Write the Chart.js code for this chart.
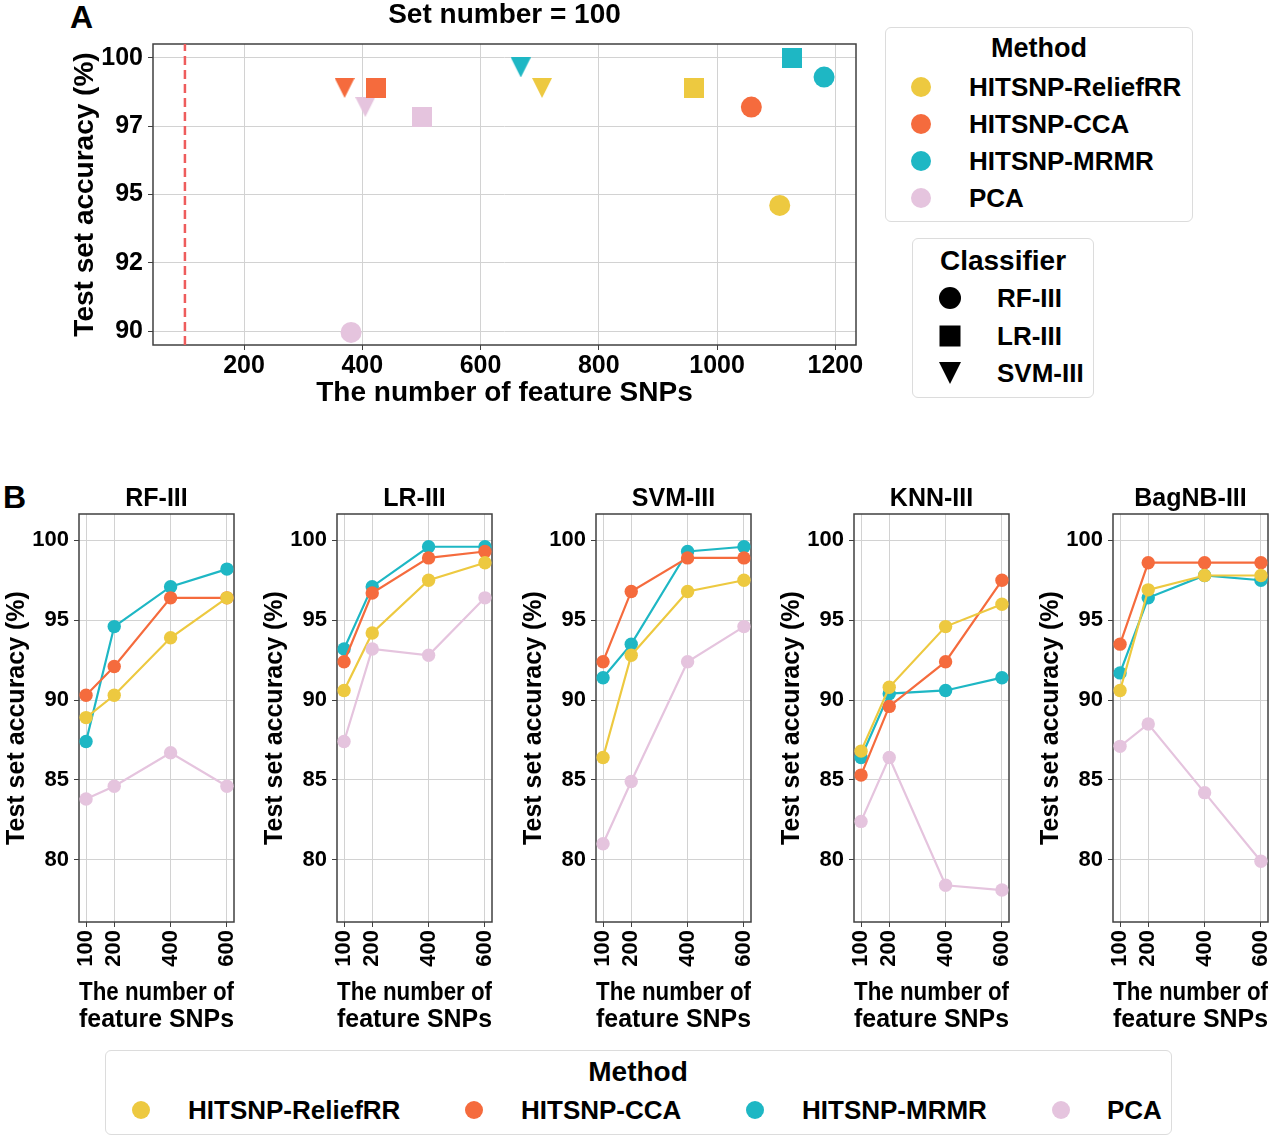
<!DOCTYPE html>
<html><head><meta charset="utf-8">
<script src="https://cdn.jsdelivr.net/npm/chart.js@4.4.1/dist/chart.umd.min.js"></script>
<style>
html,body{margin:0;padding:0;background:#fff;}
#root{position:relative;width:1280px;height:1137px;overflow:hidden;font-family:'Liberation Sans',Arial,Helvetica,sans-serif;font-weight:bold;color:#000;}
canvas{position:absolute;}
.lbl{position:absolute;font-size:32px;line-height:32px;}
.legend{position:absolute;border:1px solid #dcdcdc;border-radius:6px;background:#fff;box-sizing:border-box;}
.lt{position:absolute;transform:translate(-50%,-50%);white-space:nowrap;line-height:1;}
.li{position:absolute;white-space:nowrap;transform:translateY(-50%);line-height:1;}
.mk{position:absolute;transform:translate(-50%,-50%);}
</style></head>
<body><div id="root">
<div class="lbl" style="left:70px;top:1px;">A</div>
<div class="lbl" style="left:3px;top:481px;">B</div>
</div>
<script>
// ---------------- DATA ----------------
const methods = ['HITSNP-ReliefRR', 'HITSNP-CCA', 'HITSNP-MRMR', 'PCA'];
const classifiersA = ['RF-III', 'LR-III', 'SVM-III'];
// Panel A: number of feature SNPs and accuracy per method (order of `methods`)
const featRF_A  = [1106, 1058, 1181, 381];
const accRF_A   = [94.6, 98.2, 99.3, 89.95];
const featLR_A  = [961, 423, 1126, 501];
const accLR_A   = [98.9, 98.9, 100.0, 97.85];
const featSVM_A = [704, 370, 668, 405];
const accSVM_A  = [98.9, 98.9, 99.65, 98.2];
const setNumberA = 100;
const xTicksA = [200, 400, 600, 800, 1000, 1200];
const xTickLabelsA = ['200', '400', '600', '800', '1000', '1200'];
const yTicksA = [90, 92.5, 95, 97.5, 100];
const yTickLabelsA = ['90', '92', '95', '97', '100'];

// Panel B
const subplotsB = ['RF-III', 'LR-III', 'SVM-III', 'KNN-III', 'BagNB-III'];
const xB = [100, 200, 400, 600];
const xTickLabelsB = ['100', '200', '400', '600'];
const yTicksB = [80, 85, 90, 95, 100];
const reliefB = [
  [88.9, 90.3, 93.9, 96.4],
  [90.6, 94.2, 97.5, 98.6],
  [86.4, 92.8, 96.8, 97.5],
  [86.8, 90.8, 94.6, 96.0],
  [90.6, 96.9, 97.8, 97.8]
];
const ccaB = [
  [90.3, 92.1, 96.4, 96.4],
  [92.4, 96.7, 98.9, 99.3],
  [92.4, 96.8, 98.9, 98.9],
  [85.3, 89.6, 92.4, 97.5],
  [93.5, 98.6, 98.6, 98.6]
];
const mrmrB = [
  [87.4, 94.6, 97.1, 98.2],
  [93.2, 97.1, 99.6, 99.6],
  [91.4, 93.5, 99.3, 99.6],
  [86.4, 90.4, 90.6, 91.4],
  [91.7, 96.4, 97.8, 97.5]
];
const pcaB = [
  [83.8, 84.6, 86.7, 84.6],
  [87.4, 93.2, 92.8, 96.4],
  [81.0, 84.9, 92.4, 94.6],
  [82.4, 86.4, 78.4, 78.1],
  [87.1, 88.5, 84.2, 79.9]
];

// ---------------- STYLE ----------------
const FONT = "'Liberation Sans', Arial, Helvetica, sans-serif";
const COLORS = ['#EDC940', '#F56B3D', '#1EB7C4', '#E5C4DE'];
const GRID = '#d2d2d2';
const FRAME = '#404040';
const root = document.getElementById('root');

function makeCanvas(left, top, w, h) {
  const c = document.createElement('canvas');
  c.width = w; c.height = h;
  c.style.left = left + 'px'; c.style.top = top + 'px';
  c.style.width = w + 'px'; c.style.height = h + 'px';
  root.appendChild(c);
  return c;
}
function markerImg(shape, color, size) {
  const c = document.createElement('canvas');
  c.width = size; c.height = size;
  const g = c.getContext('2d');
  g.fillStyle = color;
  if (shape === 'square') g.fillRect(0, 0, size, size);
  else if (shape === 'tri') { g.beginPath(); g.moveTo(0, 0); g.lineTo(size, 0); g.lineTo(size / 2, size); g.closePath(); g.fill(); }
  return c;
}
const framePlugin = {
  id: 'frame',
  beforeDatasetsDraw(chart) {
    const a = chart.chartArea, ctx = chart.ctx;
    ctx.save(); ctx.strokeStyle = FRAME; ctx.lineWidth = 1.5;
    ctx.strokeRect(a.left, a.top, a.right - a.left, a.bottom - a.top);
    ctx.restore();
  },
  afterDraw(chart, args, opts) {
    if (!opts.text) return;
    const a = chart.chartArea, ctx = chart.ctx;
    ctx.save(); ctx.fillStyle = '#000'; ctx.font = 'bold ' + opts.size + 'px ' + FONT;
    ctx.textAlign = 'center'; ctx.textBaseline = 'middle';
    ctx.fillText(opts.text, (a.left + a.right) / 2, a.top - opts.offset);
    ctx.restore();
  }
};

// ---------------- PANEL A ----------------
const xMinA = 46, xMaxA = 1235, yMinA = 89.49, yMaxA = 100.51;
const featA = [featRF_A, featLR_A, featSVM_A];
const accA = [accRF_A, accLR_A, accSVM_A];
const dsA = [];
dsA.push({type: 'line', data: [{x: setNumberA, y: yMinA}, {x: setNumberA, y: yMaxA}], borderColor: '#EE5C5C', borderWidth: 2.5, borderDash: [9, 5], pointRadius: 0, order: 20});
classifiersA.forEach((cl, ci) => {
  methods.forEach((m, mi) => {
    const d = {type: 'scatter', data: [{x: featA[ci][mi], y: accA[ci][mi]}], backgroundColor: COLORS[mi], borderWidth: 0};
    if (ci === 0) { d.pointStyle = 'circle'; d.pointRadius = 10.5; }
    else if (ci === 1) { d.pointStyle = markerImg('square', COLORS[mi], 20); d.pointRadius = 10; }
    else { d.pointStyle = markerImg('tri', COLORS[mi], 20); d.pointRadius = 10; }
    dsA.push(d);
  });
});
new Chart(makeCanvas(0, 0, 880, 410), {
  data: {datasets: dsA},
  plugins: [framePlugin],
  options: {
    responsive: false, animation: false, events: [],
    layout: {padding: {top: 44, right: 24, left: 0, bottom: 0}},
    plugins: {legend: {display: false}, tooltip: {enabled: false}, frame: {text: 'Set number = ' + setNumberA, size: 28, offset: 29}},
    scales: {
      x: {type: 'linear', min: xMinA, max: xMaxA,
        afterBuildTicks: s => { s.ticks = xTicksA.map(v => ({value: v})); },
        afterFit: s => { s.height = 65; s.paddingLeft = 0; s.paddingRight = 0; },
        grid: {color: GRID, lineWidth: 1, drawTicks: true, tickLength: 5, tickColor: FRAME}, border: {display: false},
        ticks: {font: {family: FONT, size: 25, weight: 'bold'}, color: '#000', padding: 1, maxRotation: 0, minRotation: 0, callback: (v, i) => xTickLabelsA[i]},
        title: {display: true, text: 'The number of feature SNPs', color: '#000', font: {family: FONT, size: 28, weight: 'bold', lineHeight: 1.2}, padding: {top: 0, bottom: 0}}
      },
      y: {type: 'linear', min: yMinA, max: yMaxA,
        afterBuildTicks: s => { s.ticks = yTicksA.map(v => ({value: v})); },
        afterFit: s => { s.width = 153; s.paddingTop = 0; s.paddingBottom = 0; },
        grid: {color: GRID, lineWidth: 1, drawTicks: true, tickLength: 5, tickColor: FRAME}, border: {display: false},
        ticks: {font: {family: FONT, size: 25, weight: 'bold'}, color: '#000', padding: 5, callback: (v, i) => yTickLabelsA[i]},
        title: {display: true, text: 'Test set accuracy (%)', color: '#000', font: {family: FONT, size: 28, weight: 'bold', lineHeight: 1.2}, padding: {top: 68, bottom: 0}}
      }
    }
  }
});

// ---------------- PANEL B ----------------
const xMinB = 75, xMaxB = 625, yMinB = 76.1, yMaxB = 101.65;
const leftsB = [79, 337, 596, 854, 1113];
const seriesB = [reliefB, ccaB, mrmrB, pcaB];
subplotsB.forEach((name, si) => {
  const order = [3, 0, 1, 2]; // PCA at bottom
  const datasets = order.map(mi => ({
    type: 'line', label: methods[mi],
    data: xB.map((x, k) => ({x: x, y: seriesB[mi][si][k]})),
    borderColor: COLORS[mi], backgroundColor: COLORS[mi], borderWidth: 2.2,
    pointRadius: 6.7, pointBorderWidth: 0, pointStyle: 'circle', tension: 0
  }));
  new Chart(makeCanvas(leftsB[si] - 79, 480, 254, 552), {
    data: {datasets},
    plugins: [framePlugin],
    options: {
      responsive: false, animation: false, events: [],
      layout: {padding: {top: 34, right: 20, left: 0, bottom: 0}},
      plugins: {legend: {display: false}, tooltip: {enabled: false}, frame: {text: name, size: 25, offset: 15}},
      scales: {
        x: {type: 'linear', min: xMinB, max: xMaxB,
          afterBuildTicks: s => { s.ticks = xB.map(v => ({value: v})); },
          afterFit: s => { s.height = 110; s.paddingLeft = 0; s.paddingRight = 0; },
          grid: {color: GRID, lineWidth: 1, drawTicks: true, tickLength: 5, tickColor: FRAME}, border: {display: false},
          ticks: {font: {family: FONT, size: 22, weight: 'bold'}, color: '#000', padding: 3, maxRotation: 90, minRotation: 90, autoSkip: false, callback: (v, i) => xTickLabelsB[i]},
          title: {display: true, text: ['The number of', 'feature SNPs'], color: '#000', font: {family: FONT, size: 25, weight: 'bold', lineHeight: 1.08}, padding: {top: 0, bottom: -2}}
        },
        y: {type: 'linear', min: yMinB, max: yMaxB,
          afterBuildTicks: s => { s.ticks = yTicksB.map(v => ({value: v})); },
          afterFit: s => { s.width = 79; s.paddingTop = 0; s.paddingBottom = 0; },
          grid: {color: GRID, lineWidth: 1, drawTicks: true, tickLength: 5, tickColor: FRAME}, border: {display: false},
          ticks: {font: {family: FONT, size: 22, weight: 'bold'}, color: '#000', padding: 5},
          title: {display: true, text: 'Test set accuracy (%)', color: '#000', font: {family: FONT, size: 25, weight: 'bold', lineHeight: 1.2}, padding: {top: 2, bottom: 0}}
        }
      }
    }
  });
});

// ---------------- LEGENDS (HTML) ----------------
function el(cls, style, html) {
  const d = document.createElement('div');
  d.className = cls; d.style.cssText = style; if (html !== undefined) d.textContent = html;
  root.appendChild(d); return d;
}
function circleMk(x, y, d, color) {
  el('mk', `left:${x}px;top:${y}px;width:${d}px;height:${d}px;border-radius:50%;background:${color};`);
}
// Method legend (panel A)
el('legend', 'left:885px;top:27px;width:308px;height:195px;');
el('lt', 'left:1039px;top:48px;font-size:27px;', 'Method');
const mYs = [87, 124, 161, 198];
methods.forEach((m, i) => {
  circleMk(921, mYs[i], 20, COLORS[i]);
  el('li', `left:969px;top:${mYs[i]}px;font-size:26px;`, m);
});
// Classifier legend
el('legend', 'left:912px;top:238px;width:182px;height:160px;');
el('lt', 'left:1003px;top:261px;font-size:28px;', 'Classifier');
const cYs = [298, 336, 373];
circleMk(950, cYs[0], 22, '#000');
el('mk', `left:950px;top:${cYs[1]}px;width:21px;height:21px;background:#000;`);
el('mk', `left:950px;top:${cYs[2]}px;width:0;height:0;border-left:11px solid transparent;border-right:11px solid transparent;border-top:22px solid #000;`);
classifiersA.forEach((c, i) => el('li', `left:997px;top:${cYs[i]}px;font-size:26px;`, c));
// Bottom legend
el('legend', 'left:105px;top:1050px;width:1067px;height:85px;');
el('lt', 'left:638px;top:1072px;font-size:28px;', 'Method');
const bMk = [141, 474, 755, 1061], bTx = [188, 521, 802, 1107];
methods.forEach((m, i) => {
  circleMk(bMk[i], 1110, 18, COLORS[i]);
  el('li', `left:${bTx[i]}px;top:1110px;font-size:26px;`, m);
});
</script>
</body></html>
